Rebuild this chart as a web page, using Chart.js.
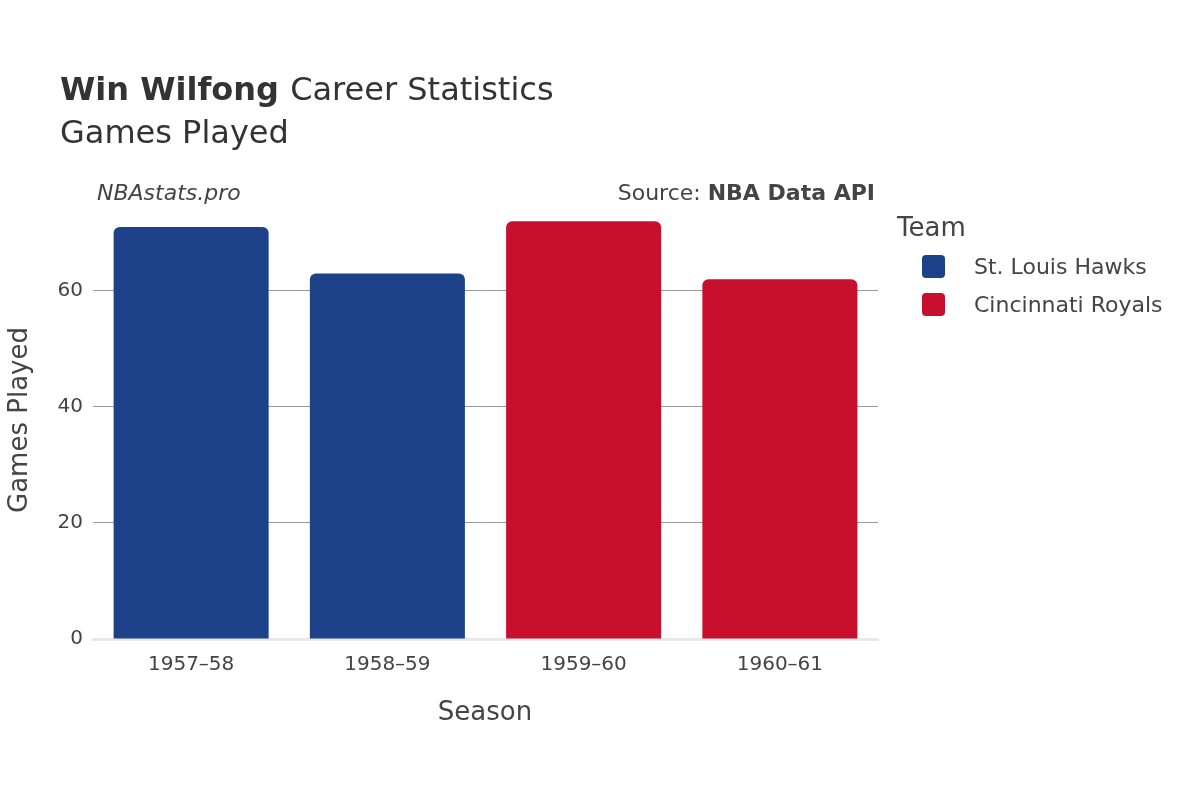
<!DOCTYPE html>
<html><head><meta charset="utf-8">
<script src="https://cdn.jsdelivr.net/npm/chart.js@4/dist/chart.umd.min.js"></script>
<style>html,body{margin:0;padding:0;background:#fff}#w{width:1200px;height:800px}</style>
</head><body><div id="w"><canvas id="c"></canvas></div>
<script>
const seasons = ["1957\u201358","1958\u201359","1959\u201360","1960\u201361"];
const hawks = [71, 63, null, null];
const royals = [null, null, 72, 62];
const yTicks = [0,20,40,60];
const F = "'DejaVu Sans', sans-serif";

const deco = {
  id:'deco',
  afterDraw(ch){
    const c = ch.ctx; c.save();
    c.fillStyle='#333'; c.textBaseline='alphabetic'; c.textAlign='left';
    c.font="bold 32px "+F; c.fillText("Win Wilfong",60,100);
    const w=c.measureText("Win Wilfong ").width;
    c.font="32px "+F; c.fillText("Career Statistics",60+w,100);
    c.fillText("Games Played",60,143);
    c.font="italic 22px "+F; c.fillStyle='#444'; c.fillText("NBAstats.pro",97,200);
    c.textAlign='right'; c.font="bold 22px "+F; c.fillText("NBA Data API",875,200);
    const bw=c.measureText("NBA Data API").width;
    c.font="22px "+F; c.fillText("Source: ",875-bw,200);
    c.textAlign='center'; c.font="26px "+F; c.fillStyle='#444';
    c.fillText("Season",485,720);
    c.save(); c.translate(27,420); c.rotate(-Math.PI/2); c.fillText("Games Played",0,0); c.restore();
    c.textAlign='left'; c.font="26px "+F; c.fillText("Team",897,236);
    c.font="22px "+F;
    ch.data.datasets.forEach((d,i)=>{
      const y=266+i*38;
      c.fillStyle=d.backgroundColor;
      c.beginPath(); c.roundRect(922,y-11,23,23,4); c.fill();
      c.fillStyle='#444'; c.fillText(d.label,974,y+8);
    });
    c.restore();
  }
};

new Chart(document.getElementById('c'),{
  type:'bar',
  data:{labels:seasons,datasets:[
    {label:"St. Louis Hawks",data:hawks,backgroundColor:'#1d428a',borderRadius:6,borderSkipped:'bottom'},
    {label:"Cincinnati Royals",data:royals,backgroundColor:'#c8102e',borderRadius:6,borderSkipped:'bottom'}
  ]},
  options:{
    responsive:true,maintainAspectRatio:false,animation:false,
    layout:{padding:{top:205,right:322,left:0,bottom:0}},
    plugins:{legend:{display:false},tooltip:{enabled:false}},
    datasets:{bar:{categoryPercentage:1,barPercentage:0.79}},
    scales:{
      x:{stacked:true,grid:{display:false},border:{color:'#e8e8e8',width:3},
        ticks:{color:'#444',font:{family:F,size:20},padding:6},
        afterFit(s){s.height=161;}},
      y:{stacked:true,min:0,max:74.8,border:{display:false},
        grid:{color:ctx=>ctx.tick.value===0?'rgba(0,0,0,0)':'#9a9a9a',lineWidth:1,drawTicks:false},
        afterBuildTicks(s){s.ticks=yTicks.map(v=>({value:v}));},
        ticks:{color:'#444',font:{family:F,size:20},padding:10},
        afterFit(s){s.width=93;}}
    }
  },
  plugins:[deco]
});
</script></body></html>
